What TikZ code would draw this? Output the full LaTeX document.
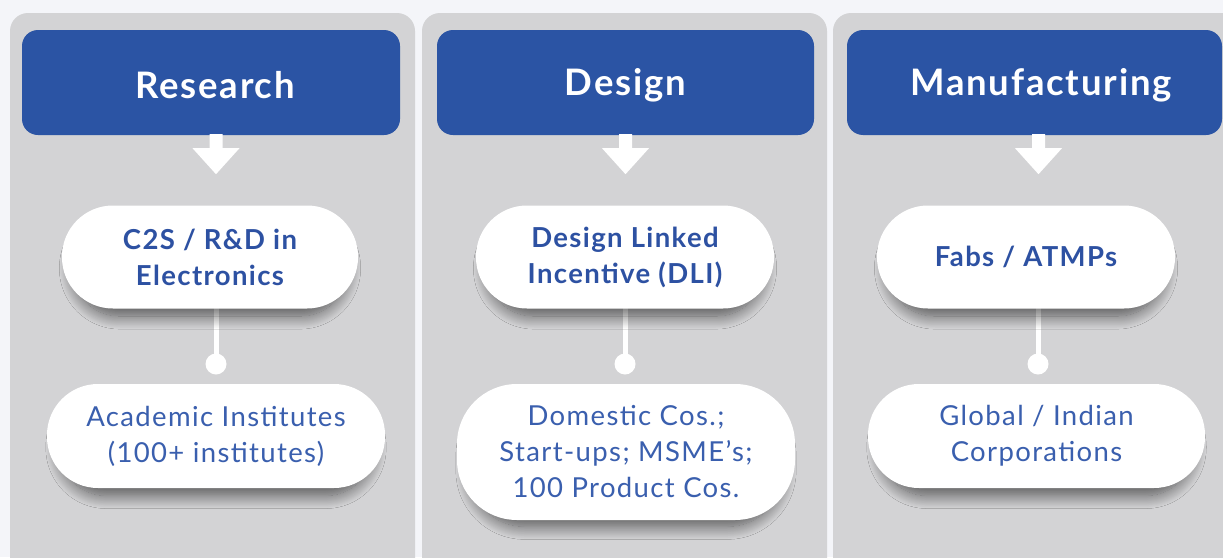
\documentclass[tikz,border=0pt]{standalone}
\usepackage{fontspec}
\setmainfont{Lato}[LetterSpace=5]
\usetikzlibrary{shadows.blur,calc}
\definecolor{bgc}{HTML}{F4F5F9}
\definecolor{panelc}{HTML}{D3D3D5}
\definecolor{headc}{HTML}{2B54A4}
\definecolor{boldc}{HTML}{2D51A2}
\definecolor{lightc}{HTML}{3A5FAE}
\tikzset{
  panel/.style={fill=panelc, rounded corners=18pt},
  header/.style={fill=headc, rounded corners=16pt, minimum height=105pt, inner sep=0pt},
  headtext/.style={text=white, font=\fontsize{36.5}{40}\selectfont\bfseries, inner sep=0pt},
  pill/.style={fill=white, rounded corners=51pt, minimum height=103pt, inner sep=0pt,
    align=center, blur shadow={shadow xshift=0pt, shadow yshift=-12pt, shadow blur radius=14pt, shadow blur steps=20, shadow opacity=60, shadow scale=0.93}},
  toppill/.style={pill, text=boldc, font=\fontsize{27.5}{36}\selectfont\bfseries},
  botpill/.style={pill, text=lightc, font=\fontsize{27.5}{36}\selectfont},
  dot/.style={circle, fill=white, minimum size=21pt, inner sep=0pt},
  link/.style={draw=white, line width=5pt},
  blockarrow/.style={fill=white},
}
\begin{document}
\begin{tikzpicture}[x=1pt,y=-1pt]
\useasboundingbox (0,0) rectangle (1223,557);
\fill[bgc] (0,0) rectangle (1223,557);
% panels
\fill[panel] (10,13) rectangle (415,590);
\fill[panel] (422,13) rectangle (827,590);
\fill[panel] (833,13) rectangle (1260,590);
% headers
\node[header, minimum width=378pt] (h1) at (211,82.5) {};
\node[header, minimum width=377pt] (h2) at (625.5,82.5) {};
\node[header, minimum width=375pt] (h3) at (1034.5,82.5) {};
\node[headtext] (t1) at (215,85) {Research};
\node[headtext] (t2) at (625.5,85) {Design};
\node[headtext] (t3) at (1041,85) {Manufacturing};
% block arrows
\foreach \h/\dx in {h1/5, h2/0, h3/4}{
  \fill[blockarrow] ($(\h.south)+(\dx-6.5,-1)$) -- ($(\h.south)+(\dx+6.5,-1)$) -- ($(\h.south)+(\dx+6.5,13)$)
    -- ($(\h.south)+(\dx+23.5,13)$) -- ($(\h.south)+(\dx,39)$) -- ($(\h.south)+(\dx-23.5,13)$)
    -- ($(\h.south)+(\dx-6.5,13)$) -- cycle;
}
% circles
\node[dot] (c1) at (216,364) {};
\node[dot] (c2) at (625,364) {};
\node[dot] (c3) at (1038,364) {};
% bottom pills
\node[botpill, minimum width=338pt, minimum height=104pt] (b1) at (216,436) {Academic Institutes\\(100+ institutes)};
\node[botpill, minimum width=338pt, minimum height=136pt, rounded corners=60pt] (b2) at (626,452) {Domestic Cos.;\\Start-ups; MSME's;\\100 Product Cos.};
\node[botpill, minimum width=337pt, minimum height=104pt] (b3) at (1036.5,436) {Global / Indian\\Corporations};
% links
\draw[link] (216,306) -- (c1.center);
\draw[link] (625,306) -- (c2.center);
\draw[link] (1038,306) -- (c3.center);
% top pills
\node[toppill, minimum width=296pt] (p1) at (210,257) {C2S / R\&D in\\Electronics};
\node[toppill, minimum width=298pt] (p2) at (625,257) {Design Linked\\Incentive (DLI)};
\node[toppill, minimum width=298pt] (p3) at (1026,257) {Fabs / ATMPs};
\end{tikzpicture}
\end{document}
